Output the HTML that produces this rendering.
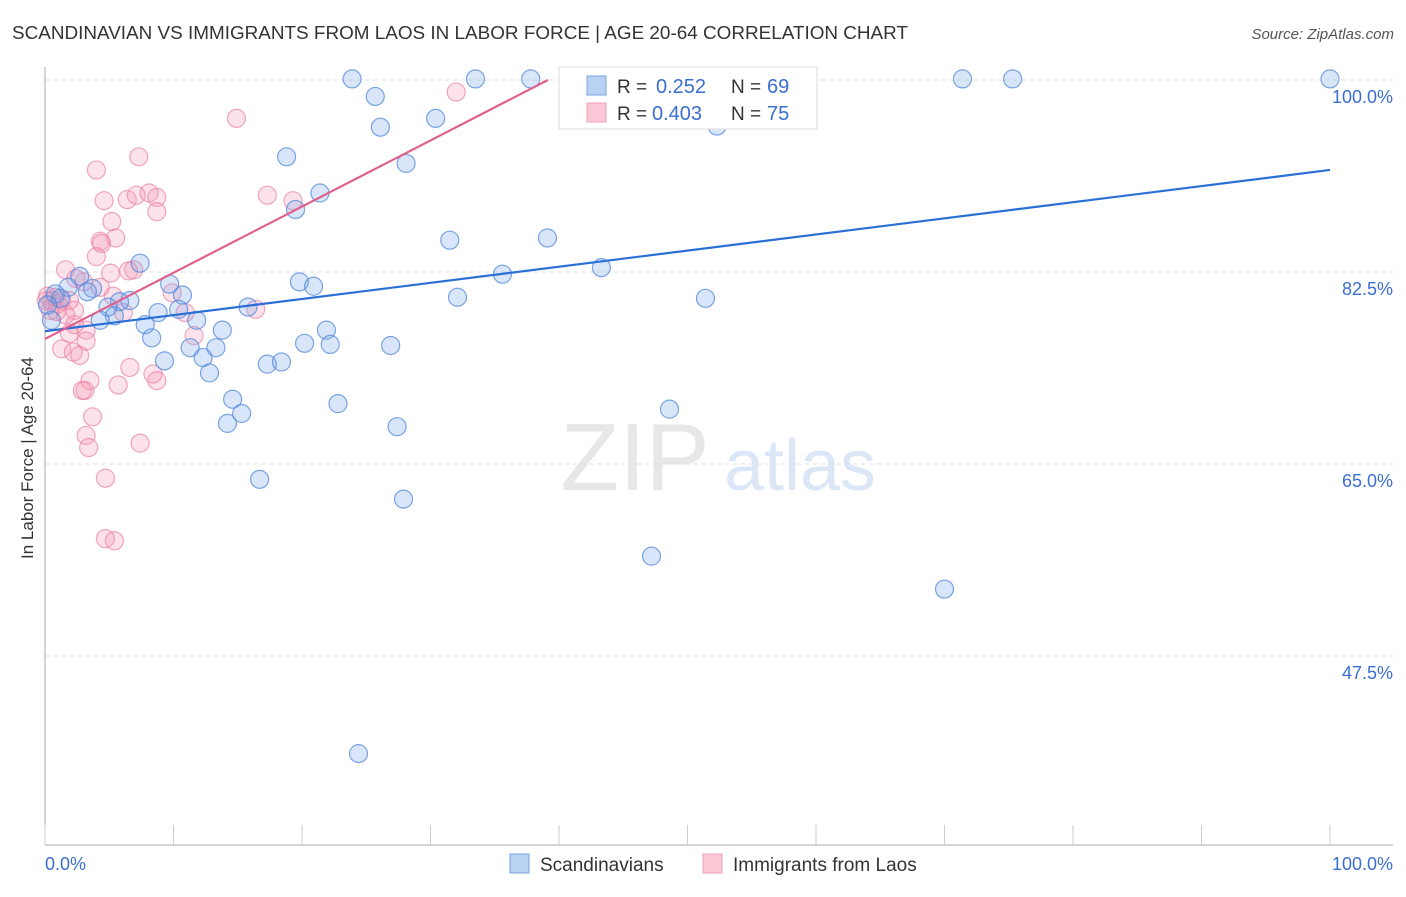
<!DOCTYPE html>
<html><head><meta charset="utf-8"><style>
body{margin:0;background:#fff;font-family:"Liberation Sans",sans-serif;}
svg text{font-family:"Liberation Sans",sans-serif;}
</style></head><body>
<svg id="chart" width="1406" height="892" xmlns="http://www.w3.org/2000/svg">
<text x="12" y="39" font-size="18" fill="#333" textLength="896" lengthAdjust="spacingAndGlyphs">SCANDINAVIAN VS IMMIGRANTS FROM LAOS IN LABOR FORCE | AGE 20-64 CORRELATION CHART</text>
<text x="1394" y="39" font-size="15" fill="#555" text-anchor="end" font-style="italic">Source: ZipAtlas.com</text>
<text transform="translate(33,458) rotate(-90)" font-size="17" fill="#333" text-anchor="middle">In Labor Force | Age 20-64</text>
<g opacity="0.35">
<text x="635" y="490" font-size="96" fill="#bbb" font-family="Liberation Serif" text-anchor="middle">ZIP</text>
<text x="800" y="490" font-size="72" fill="#9bbbe8" text-anchor="middle">atlas</text>
</g>
<g id="grid"></g><g id="axes"></g><g id="pts"></g><g id="lines"></g>
<g>
<rect x="559" y="67" width="258" height="62" fill="#fff" stroke="#ddd"/>
<rect x="587" y="76" width="19" height="19" fill="#b8d2f4" stroke="#7aa6e6"/>
<text x="617" y="93" font-size="19" fill="#333">R =</text>
<text x="656" y="93" font-size="20" fill="#3a6fd0">0.252</text>
<text x="731" y="93" font-size="19" fill="#333">N =</text>
<text x="767" y="93" font-size="20" fill="#3a6fd0">69</text>
<rect x="587" y="103" width="19" height="19" fill="#fbc8d6" stroke="#f0a0b8"/>
<text x="617" y="120" font-size="19" fill="#333">R =</text>
<text x="652" y="120" font-size="20" fill="#3a6fd0">0.403</text>
<text x="731" y="120" font-size="19" fill="#333">N =</text>
<text x="767" y="120" font-size="20" fill="#3a6fd0">75</text>
</g>
<g>
<rect x="510" y="854" width="19" height="19" fill="#b8d2f4" stroke="#7aa6e6"/>
<text x="540" y="871" font-size="19" fill="#333">Scandinavians</text>
<rect x="703" y="854" width="19" height="19" fill="#fbc8d6" stroke="#f0a0b8"/>
<text x="733" y="871" font-size="19" fill="#333">Immigrants from Laos</text>
</g>
</svg>
<script>
const blueX=[23.9,33.5,37.8,42.0,71.4,75.3,100,25.7,26.1,30.4,52.3,18.8,28.1,21.4,19.5,31.5,39.1,35.6,43.3,7.4,2.7,19.8,20.9,32.1,51.4,1.8,3.7,0.8,3.3,6.6,5.8,4.9,10.7,9.7,8.8,10.4,11.8,15.8,7.8,13.8,5.4,4.3,21.9,8.3,11.3,13.3,22.2,20.2,26.9,9.3,12.3,17.3,18.4,12.8,14.6,15.3,22.8,14.2,27.4,48.6,16.7,27.9,47.2,70.0,24.4,0.5,1.2,0.2];
const blueY=[100.1,100.1,100.1,100.1,100.1,100.1,100.1,98.5,95.7,96.5,95.8,93.0,92.4,89.7,88.2,85.4,85.6,82.3,82.9,83.3,82.1,81.6,81.2,80.2,80.1,81.1,81.0,80.5,80.7,79.9,79.8,79.3,80.4,81.4,78.8,79.1,78.1,79.3,77.7,77.2,78.5,78.1,77.2,76.5,75.6,75.6,75.9,76.0,75.8,74.4,74.7,74.1,74.3,73.3,70.9,69.6,70.5,68.7,68.4,70.0,63.6,61.8,56.6,53.6,38.6,78.1,80.1,79.5];
const pinkX=[14.9,32.0,7.3,4.0,4.6,6.4,7.1,8.1,8.7,8.7,5.2,5.5,4.3,4.4,4.0,6.5,5.1,1.6,2.4,3.0,6.9,9.9,17.3,19.3,16.4,10.9,11.6,5.3,6.1,3.2,1.9,2.3,1.3,2.2,2.7,3.2,5.7,6.6,8.4,8.7,3.5,3.1,2.9,3.7,3.2,3.4,7.4,4.7,4.7,5.4,0.2,0.5,0.8,1.0,1.3,0.4,1.6,2.3,4.3,1.9,0.9,0.1];
const pinkY=[96.5,98.9,93.0,91.8,89.0,89.1,89.5,89.7,89.3,88.0,87.1,85.6,85.3,85.1,83.9,82.6,82.4,82.7,81.9,81.6,82.7,80.6,89.5,89.0,79.1,78.8,76.7,80.3,78.8,77.2,76.9,77.7,75.5,75.2,74.9,76.2,72.2,73.8,73.2,72.6,72.6,71.7,71.7,69.3,67.6,66.5,66.9,63.7,58.2,58.0,80.3,79.9,80.2,79.6,79.9,79.0,78.6,79.0,81.1,79.9,78.9,79.9];
const blueLine=[77.1,91.8];
const pinkLine=[76.4,0.603];
const yTicks=[100,82.5,65,47.5];
const xTickCount=10;
const X=v=>45+v*12.85, Y=v=>80+(100-v)*10.971;
const NS="http://www.w3.org/2000/svg";
function mk(tag,attrs,parent){const e=document.createElementNS(NS,tag);for(const k in attrs)e.setAttribute(k,attrs[k]);document.getElementById(parent).appendChild(e);return e;}
yTicks.forEach(t=>{
  const l=mk('line',{x1:45,x2:1393,y1:Y(t),y2:Y(t),stroke:'#ddd','stroke-dasharray':'4,4'},'grid');
  
  
  const tx=mk('text',{x:1393,y:Y(t)+23,'font-size':18,fill:'#3a6fd0','text-anchor':'end'},'grid');
  tx.textContent=t.toFixed(1)+'%';
  
  
});
const ax=mk('line',{x1:45,x2:1393,y1:845,y2:845,stroke:'#aaa'},'axes');


const ay=mk('line',{x1:45,x2:45,y1:67,y2:845,stroke:'#aaa'},'axes');


for(let i=0;i<=xTickCount;i++){
  const tk=mk('line',{x1:X(i*10),x2:X(i*10),y1:825,y2:845,stroke:'#ccc'},'axes');
  
  
}
[[0,'0.0%','start',45],[100,'100.0%','end',1393]].forEach(a=>{
  const t=mk('text',{x:a[3],y:870,'font-size':18,fill:'#3a6fd0','text-anchor':a[2]},'axes');
  t.textContent=a[1];
  
  
});
pinkX.forEach((x,i)=>{
  const c=mk('circle',{cx:X(x),cy:Y(pinkY[i]),r:9,fill:'rgba(244,150,180,0.28)',stroke:'rgba(236,130,165,0.7)','stroke-width':1.2},'pts');
  
  
});
blueX.forEach((x,i)=>{
  const c=mk('circle',{cx:X(x),cy:Y(blueY[i]),r:9,fill:'rgba(120,165,235,0.28)',stroke:'rgba(80,135,220,0.75)','stroke-width':1.2},'pts');
  
  
});
const bl=mk('line',{x1:X(0),y1:Y(blueLine[0]),x2:X(100),y2:Y(blueLine[1]),stroke:'#2a6fd6','stroke-width':2.2},'lines');


const pxEnd=Math.min(100,(100-pinkLine[0])/pinkLine[1]);
const pl=mk('line',{x1:X(0),y1:Y(pinkLine[0]),x2:X(pxEnd),y2:Y(pinkLine[0]+pinkLine[1]*pxEnd),stroke:'#e0608c','stroke-width':2.2},'lines');


</script>
</body></html>
